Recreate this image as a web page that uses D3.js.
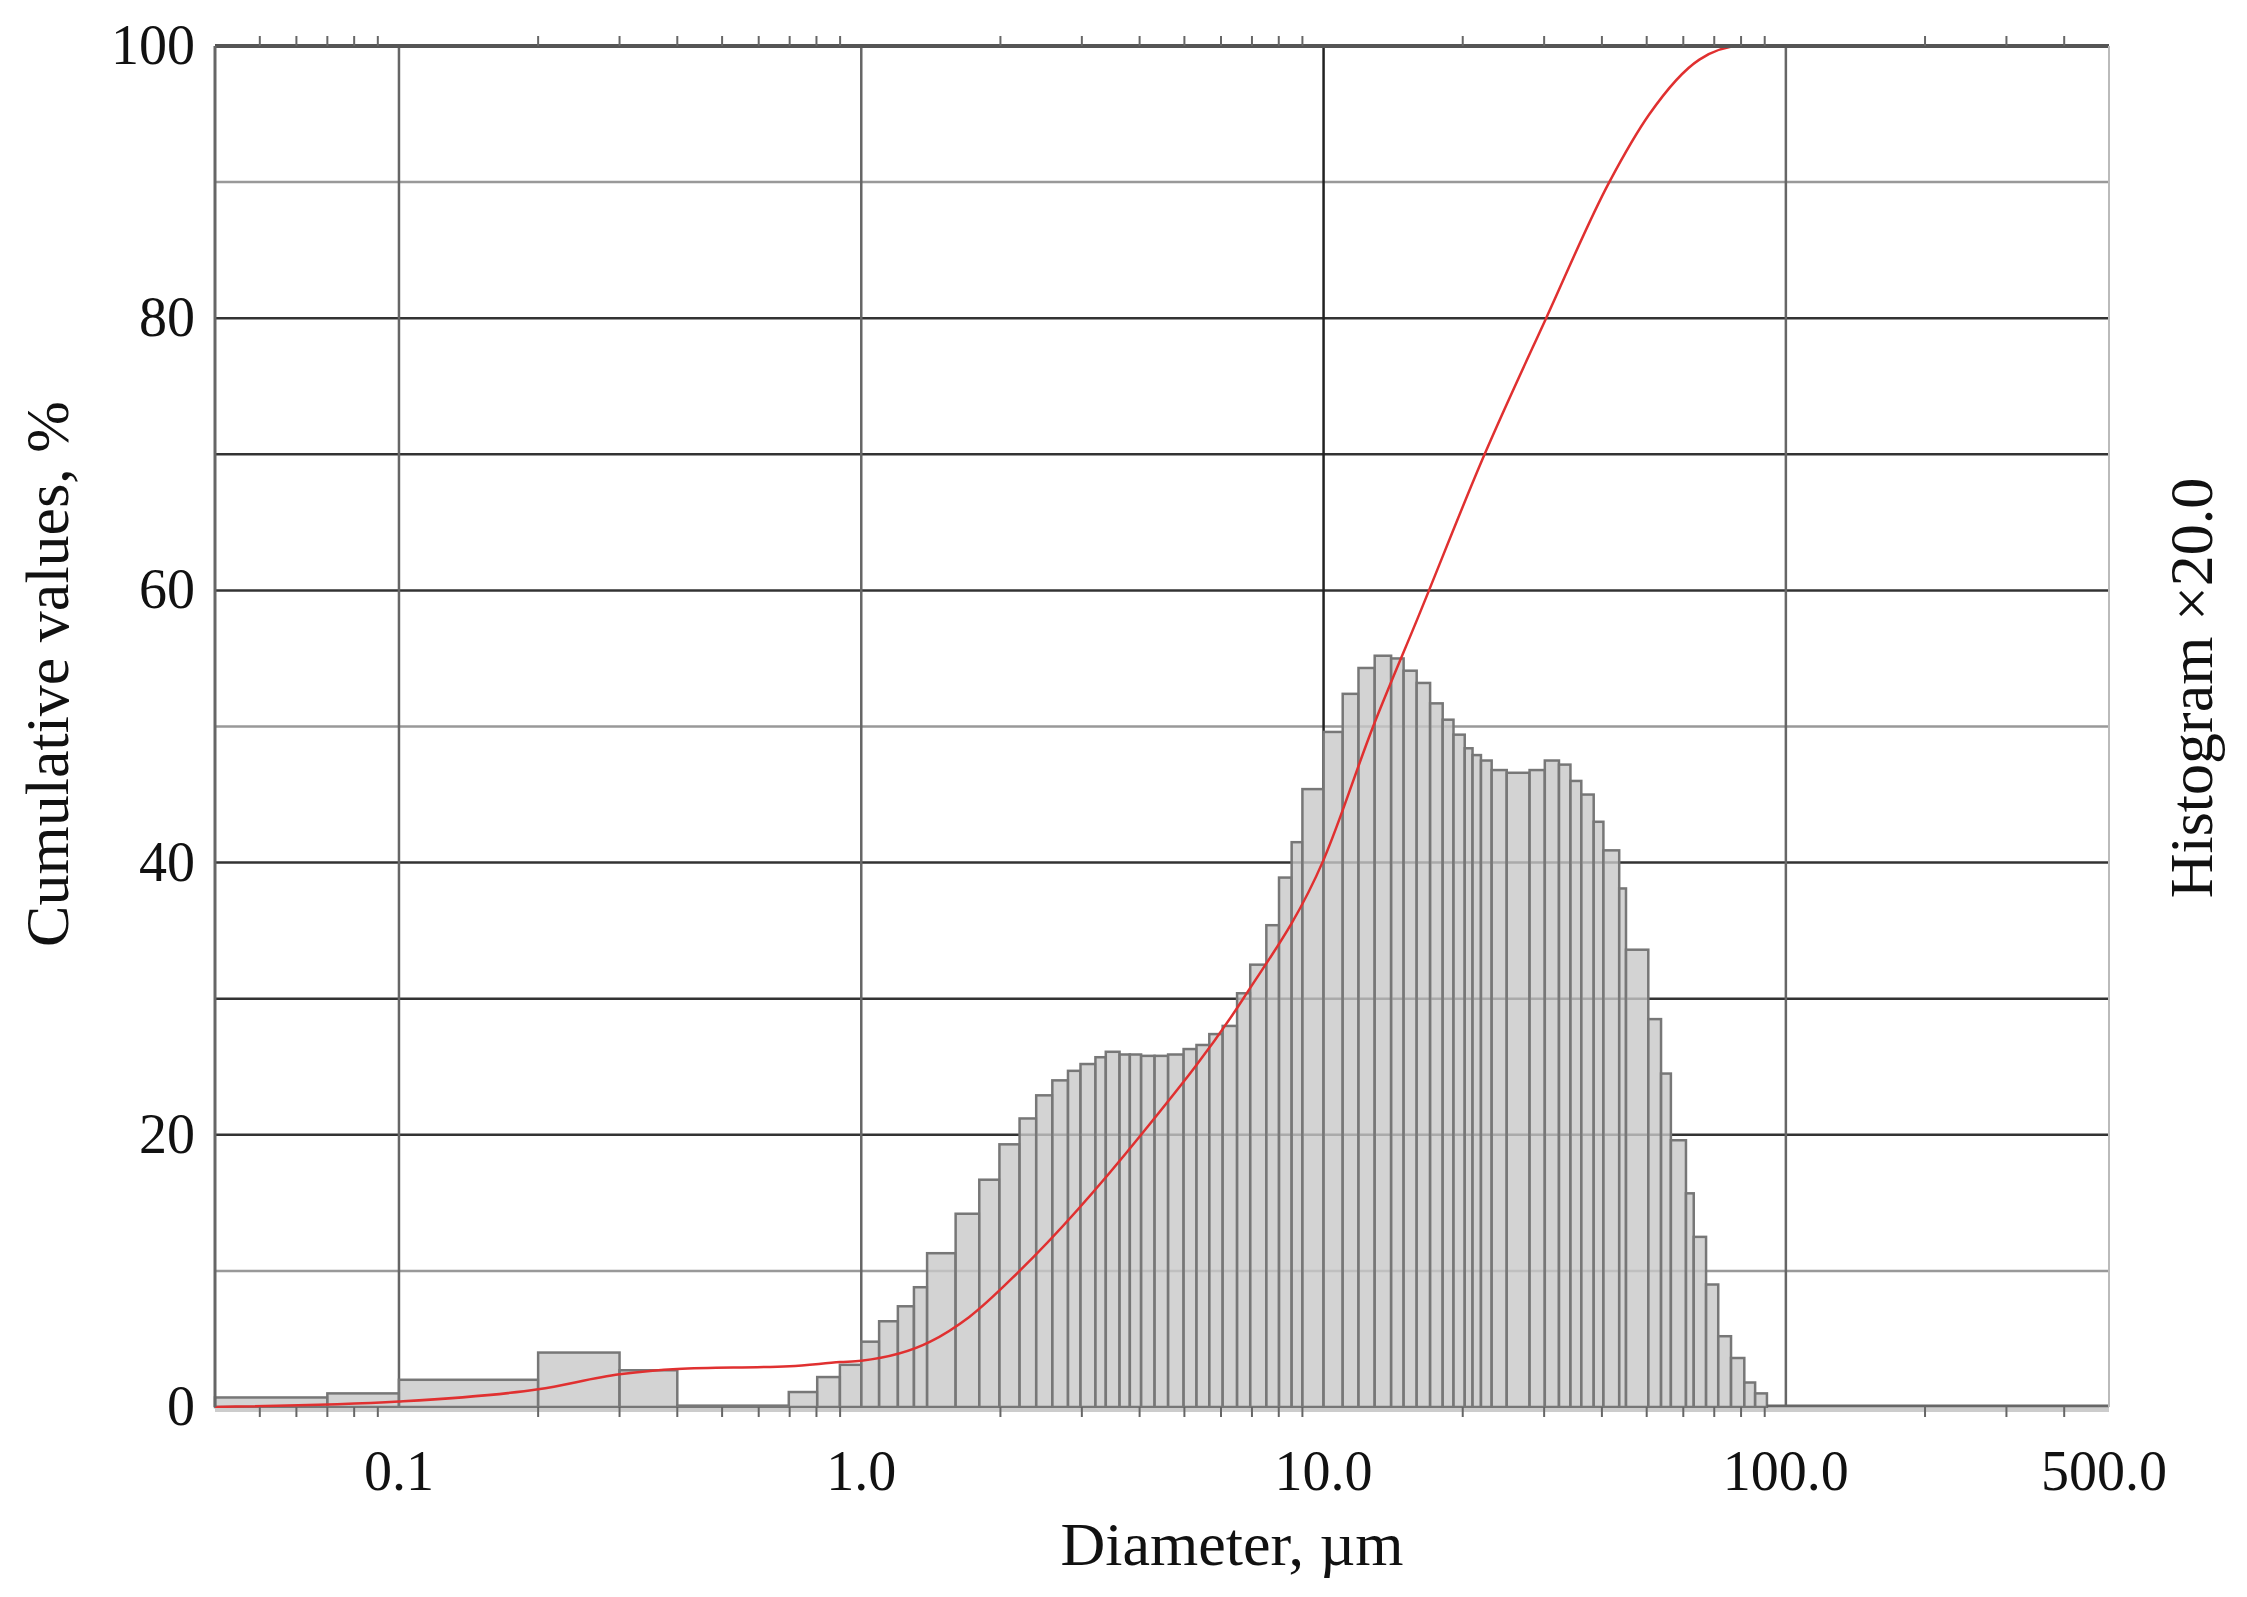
<!DOCTYPE html>
<html><head><meta charset="utf-8">
<script src="https://cdn.jsdelivr.net/npm/d3@7"></script>
<style>body{margin:0;background:#fff}text{font-family:"Liberation Serif","DejaVu Serif",serif;fill:#111}</style>
</head><body><svg id="c" width="2247" height="1597"></svg>
<script>
// Histogram bin edges (µm) and heights (scaled ×20, on the cumulative % axis)
const binEdges = [0.04,0.07,0.1,0.2,0.3,0.4,0.697,0.803,0.899,1.0,1.093,1.20,1.30,1.388,1.60,1.80,1.99,2.20,2.39,2.59,2.80,2.98,3.21,3.38,3.62,3.81,4.03,4.31,4.61,4.98,5.31,5.66,6.05,6.50,6.94,7.52,8.01,8.53,9.0,10.0,11.0,11.9,12.9,14.0,14.9,15.9,17.0,18.1,19.1,20.2,21.0,21.9,23.1,24.9,27.9,30.1,32.3,34.2,36.1,38.4,40.3,43.6,45.1,50.4,53.7,56.4,60.8,63.2,67.2,71.4,76.1,81.3,85.8,91.0];
const binHeights = [0.7,1.0,2.0,4.0,2.7,0.1,1.1,2.2,3.1,4.8,6.3,7.4,8.8,11.3,14.2,16.7,19.3,21.2,22.9,24.0,24.7,25.2,25.7,26.1,25.9,25.9,25.8,25.8,25.9,26.3,26.6,27.4,28.0,30.4,32.5,35.4,38.9,41.5,45.4,49.6,52.4,54.3,55.2,55.0,54.1,53.2,51.7,50.5,49.4,48.4,47.9,47.5,46.8,46.6,46.8,47.5,47.2,46.0,45.0,43.0,40.9,38.1,33.6,28.5,24.5,19.6,15.7,12.5,9.0,5.2,3.6,1.8,1.0];
// Cumulative curve
const cumD = [0.04,0.1,0.2,0.3,0.4,0.7,0.9,1.0,1.41,1.71,2.2,4.03,6.7,10,12.8,16,22.3,30.3,41.5,50.7,65,80,500];
const cumV = [0,0.4,1.3,2.4,2.8,3.0,3.3,3.4,4.8,6.6,10,20,30,40.2,50,58,70,80,90,95,99,100,100];
const xTickVals = [0.1,1,10,100,500];
const xTickLabels = ["0.1","1.0","10.0","100.0","500.0"];
const yTickVals = [0,20,40,60,80,100];

const L=215,R=2109,T=46,B=1407;
const svg=d3.select("#c");
const x=d3.scaleLog().domain([0.04,500]).range([L,R]);
const y=d3.scaleLinear().domain([0,100]).range([B,T]);

// horizontal grid
svg.append("g").selectAll("line").data(d3.range(10,101,10)).join("line")
 .attr("x1",L).attr("x2",R).attr("y1",d=>y(d)).attr("y2",d=>y(d))
 .attr("stroke",d=>d%20===0||d===30||d===70?"#333":"#999").attr("stroke-width",2.5);
// vertical grid
svg.append("g").selectAll("line").data([0.1,1,10,100]).join("line")
 .attr("x1",d=>x(d)).attr("x2",d=>x(d)).attr("y1",T).attr("y2",B)
 .attr("stroke",d=>d===10?"#222":"#666").attr("stroke-width",2.5);

// bars
const bins=binHeights.map((h,i)=>({x0:binEdges[i],x1:binEdges[i+1],h}));
svg.append("g").selectAll("rect").data(bins).join("rect")
 .attr("x",d=>x(d.x0)).attr("width",d=>x(d.x1)-x(d.x0))
 .attr("y",d=>y(d.h)).attr("height",d=>y(0)-y(d.h))
 .attr("fill","rgba(200,200,200,0.8)").attr("stroke","#777").attr("stroke-width",2.5);

// baseline beyond bars
svg.append("line").attr("x1",x(91)).attr("x2",R).attr("y1",B-1).attr("y2",B-1).attr("stroke","#666").attr("stroke-width",3);

// cumulative line
const pts=cumD.map((d,i)=>[d,cumV[i]]);
svg.append("path").datum(pts)
 .attr("d",d3.line().x(d=>x(d[0])).y(d=>y(d[1])).curve(d3.curveMonotoneX))
 .attr("fill","none").attr("stroke","#e03030").attr("stroke-width",2.5);

// frame
svg.append("line").attr("x1",L).attr("x2",R).attr("y1",T).attr("y2",T).attr("stroke","#555").attr("stroke-width",4);
svg.append("line").attr("x1",L).attr("x2",L).attr("y1",T).attr("y2",B).attr("stroke","#666").attr("stroke-width",3);
svg.append("line").attr("x1",R).attr("x2",R).attr("y1",T).attr("y2",B).attr("stroke","#bbb").attr("stroke-width",2);
svg.append("line").attr("x1",L).attr("x2",R).attr("y1",B+3).attr("y2",B+3).attr("stroke","#ccc").attr("stroke-width",4);

// minor ticks
const minor=[];
[0.01,0.1,1,10,100].forEach(dec=>{for(let k=1;k<=9;k++){const v=dec*k;if(v>0.04&&v<500&&![0.1,1,10,100].includes(+v.toFixed(6)))minor.push(v);}});
svg.append("g").selectAll("line").data(minor).join("line")
 .attr("x1",d=>x(d)).attr("x2",d=>x(d)).attr("y1",T-10).attr("y2",T).attr("stroke","#666").attr("stroke-width",2);
svg.append("g").selectAll("line").data(minor).join("line")
 .attr("x1",d=>x(d)).attr("x2",d=>x(d)).attr("y1",B).attr("y2",B+10).attr("stroke","#666").attr("stroke-width",2);

// x labels
svg.append("g").selectAll("text").data(xTickVals).join("text")
 .attr("x",d=>x(d)+(d===500?-5:0)).attr("y",1490).attr("text-anchor",d=>d===500?"middle":"middle")
 .attr("font-size",56).text((d,i)=>xTickLabels[i]);
// y labels
svg.append("g").selectAll("text").data(yTickVals).join("text")
 .attr("x",195).attr("y",d=>y(d)+18).attr("text-anchor","end")
 .attr("font-size",56).text(d=>d);

svg.append("text").attr("x",1232).attr("y",1565).attr("text-anchor","middle").attr("font-size",62).text("Diameter, µm");
svg.append("text").attr("transform","translate(68,674) rotate(-90)").attr("text-anchor","middle").attr("font-size",62).text("Cumulative values, %");
svg.append("text").attr("transform","translate(2212,688) rotate(-90)").attr("text-anchor","middle").attr("font-size",62).text("Histogram ×20.0");
</script></body></html>
